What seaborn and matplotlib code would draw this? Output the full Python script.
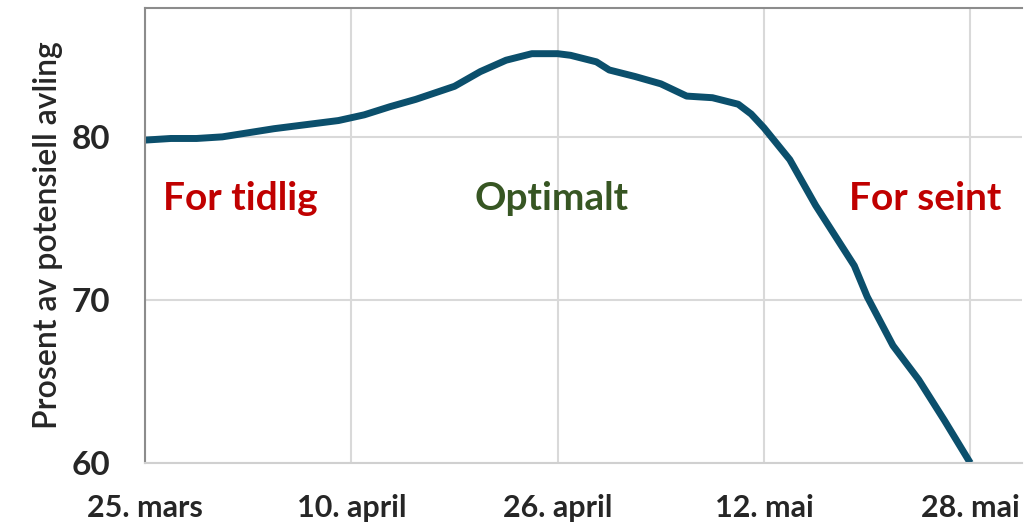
import matplotlib
matplotlib.use('Agg')
import matplotlib.pyplot as plt
import pandas as pd
import seaborn as sns

# sowing date vs. percent of potential yield
dates = ["2024-03-25", "2024-03-27", "2024-03-29", "2024-03-31", "2024-04-02",
         "2024-04-04", "2024-04-06", "2024-04-09", "2024-04-11", "2024-04-13",
         "2024-04-15", "2024-04-18", "2024-04-20", "2024-04-22", "2024-04-24",
         "2024-04-26", "2024-04-27", "2024-04-29", "2024-04-30", "2024-05-02",
         "2024-05-04", "2024-05-06", "2024-05-08", "2024-05-10", "2024-05-11",
         "2024-05-12", "2024-05-14", "2024-05-16", "2024-05-19", "2024-05-20",
         "2024-05-22", "2024-05-24", "2024-05-26", "2024-05-28"]
values = [79.8, 79.9, 79.9, 80.0, 80.25,
          80.5, 80.7, 81.0, 81.35, 81.85,
          82.3, 83.1, 84.0, 84.7, 85.1,
          85.1, 85.0, 84.6, 84.1, 83.7,
          83.25, 82.5, 82.4, 82.0, 81.4,
          80.55, 78.6, 75.8, 72.1, 70.2,
          67.2, 65.1, 62.6, 60.0]

tick_dates = ["2024-03-25", "2024-04-10", "2024-04-26", "2024-05-12", "2024-05-28"]
tick_labels = ["25. mars", "10. april", "26. april", "12. mai", "28. mai"]
y_ticks = [60, 70, 80]

zones = ["For tidlig", "Optimalt", "For seint"]
zone_dates = ["2024-04-01 10:00", "2024-04-25 12:00", "2024-05-24 12:00"]
zone_colors = ["#C00000", "#375623", "#C00000"]

df = pd.DataFrame({"dato": pd.to_datetime(dates), "prosent": values})

sns.set_theme(style="white")
plt.rcParams['font.family'] = ['Lato', 'DejaVu Sans']

fig = plt.figure(figsize=(10.25, 5.24), dpi=100)
ax = fig.add_axes([0.1415, 0.1164, 0.8555, 0.8683])

sns.lineplot(data=df, x="dato", y="prosent", color="#0B4F6C", linewidth=5,
             ax=ax, solid_capstyle="butt")

ax.set_xlim(pd.Timestamp("2024-03-25"), pd.Timestamp("2024-06-01"))
ax.set_ylim(60, 87.9)
ax.set_xticks(pd.to_datetime(tick_dates))
ax.set_xticklabels(tick_labels)
ax.set_yticks(y_ticks)
ax.tick_params(axis="x", labelsize=22, pad=22, length=0)
ax.tick_params(axis="y", labelsize=24, pad=25, length=0)
for lab in ax.get_xticklabels() + ax.get_yticklabels():
    lab.set_fontweight("bold")

ax.grid(True, color="#D9D9D9", linewidth=1.5)
ax.set_axisbelow(True)

ax.spines["right"].set_visible(False)
ax.spines["left"].set_color("#8C8C8C")
ax.spines["top"].set_color("#8C8C8C")
ax.spines["bottom"].set_color("#D0D0D0")
for s in ["left", "top", "bottom"]:
    ax.spines[s].set_linewidth(1.5)

ax.set_xlabel("")
ax.set_ylabel("Prosent av potensiell avling", fontsize=23, fontweight="semibold",
              labelpad=6)

for txt, d, c in zip(zones, zone_dates, zone_colors):
    ax.text(pd.Timestamp(d), 76.2, txt, color=c, fontsize=28, fontweight="bold",
            ha="center", va="center")

fig.savefig("out.png", dpi=100)
